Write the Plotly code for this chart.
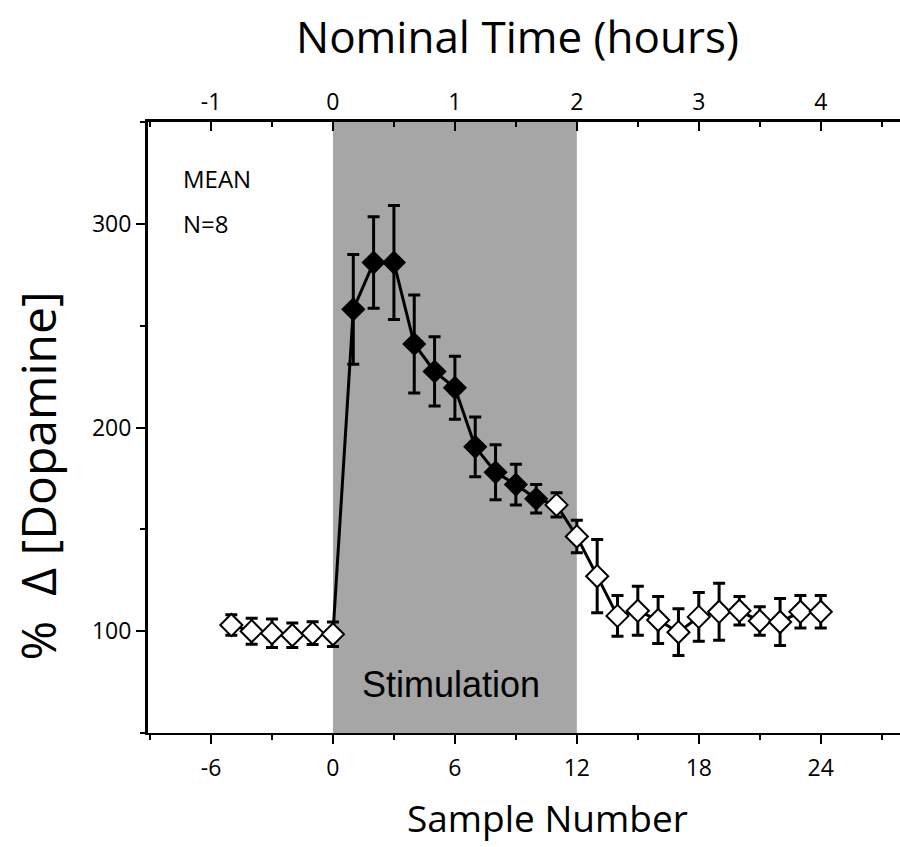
import plotly.graph_objects as go

# ---- data ----
samples_pre = [-5, -4, -3, -2, -1, 0]
values_pre = [103, 100, 99, 98, 99, 98.5]
err_pre = [5, 6.4, 7, 6, 5.6, 6]

samples_stim = [1, 2, 3, 4, 5, 6, 7, 8, 9, 10]
values_stim = [258, 281, 281, 241, 227.5, 219.5, 190.5, 178, 172, 165]
err_stim = [27, 22.5, 28, 24, 17, 15.5, 14.7, 13.5, 10, 7]

samples_post = [11, 12, 13, 14, 15, 16, 17, 18, 19, 20, 21, 22, 23, 24]
values_post = [162, 146.5, 127, 107.5, 110, 105.5, 99.5, 107, 109.5, 110, 105, 104.5, 109.5, 109.5]
err_post = [6, 8, 18, 10, 12, 11.5, 11.5, 12, 14, 7, 7, 11.5, 8, 8]

stim_start, stim_end = 0, 12
bottom_ticks = [-6, 0, 6, 12, 18, 24]
top_ticks = [-1, 0, 1, 2, 3, 4]
y_ticks = [100, 200, 300]

X_RANGE = [-9.1, 27.9]
Y_RANGE = [50, 350]

FONT = "Open Sans"

all_x = samples_pre + samples_stim + samples_post
all_y = values_pre + values_stim + values_post

fig = go.Figure()

# connecting line
fig.add_trace(go.Scatter(x=all_x, y=all_y, mode="lines",
                         line=dict(color="black", width=3), hoverinfo="skip",
                         showlegend=False))

err_style = dict(type="data", color="black", thickness=3, width=6)

# open diamonds (pre + post)
for xs, ys, es in [(samples_pre, values_pre, err_pre), (samples_post, values_post, err_post)]:
    fig.add_trace(go.Scatter(x=xs, y=ys, mode="markers",
                             error_y=dict(array=es, **err_style),
                             marker=dict(symbol="diamond", size=17, color="white",
                                         line=dict(color="black", width=2)),
                             showlegend=False))

# filled diamonds (stimulation)
fig.add_trace(go.Scatter(x=samples_stim, y=values_stim, mode="markers",
                         error_y=dict(array=err_stim, **err_style),
                         marker=dict(symbol="diamond", size=17, color="black",
                                     line=dict(color="black", width=1.5)),
                         showlegend=False))

# invisible trace on top axis so it is drawn
fig.add_trace(go.Scatter(x=[X_RANGE[0] / 6], y=[Y_RANGE[0]], xaxis="x2", mode="markers",
                         marker=dict(opacity=0), hoverinfo="skip", showlegend=False))

# stimulation band
fig.add_shape(type="rect", xref="x", yref="y", x0=stim_start, x1=stim_end,
              y0=Y_RANGE[0], y1=Y_RANGE[1], fillcolor="#a6a6a6",
              line=dict(width=0), layer="below")

fig.update_layout(
    width=900, height=847,
    margin=dict(l=148, r=0, t=122, b=114),
    paper_bgcolor="white", plot_bgcolor="white",
    font=dict(family=FONT, color="black", size=23),
    xaxis=dict(range=X_RANGE, tickvals=bottom_ticks, ticktext=[str(t) for t in bottom_ticks],
               ticks="outside", ticklen=9, tickwidth=2, tickcolor="black",
               minor=dict(dtick=3, tick0=0, ticks="outside", ticklen=5, tickwidth=1.5, tickcolor="black"),
               showline=True, linecolor="black", linewidth=2, showgrid=False, zeroline=False,
               tickfont=dict(size=23), ticklabelstandoff=4),
    xaxis2=dict(range=[X_RANGE[0] / 6, X_RANGE[1] / 6], overlaying="x", side="top",
                tickvals=top_ticks, ticktext=[str(t) for t in top_ticks],
                ticks="inside", ticklen=9, tickwidth=2, tickcolor="black",
                minor=dict(dtick=0.5, tick0=0, ticks="inside", ticklen=5, tickwidth=1.5, tickcolor="black"),
                showline=True, linecolor="black", linewidth=3, showgrid=False, zeroline=False,
                tickfont=dict(size=23), anchor="y"),
    yaxis=dict(range=Y_RANGE, tickvals=y_ticks, ticks="outside", ticklen=9, tickwidth=2,
               tickcolor="black",
               minor=dict(dtick=50, tick0=0, ticks="outside", ticklen=5, tickwidth=1.5, tickcolor="black"),
               showline=True, linecolor="black", linewidth=3, showgrid=False, zeroline=False,
               tickfont=dict(size=23)),
    yaxis2=dict(range=[0, 1], overlaying="y", side="right", anchor="x",
                tickvals=[0.354, 0.612, 0.869], ticks="inside", ticklen=3, tickwidth=2,
                tickcolor="black", showticklabels=False, showline=False, showgrid=False,
                zeroline=False),
    annotations=[
        dict(text="Nominal Time (hours)", xref="paper", yref="paper", x=0.492, y=1.1408,
             xanchor="center", yanchor="middle", showarrow=False, font=dict(size=44)),
        dict(text="Sample Number", xref="paper", yref="paper", x=0.5306, y=-0.138,
             xanchor="center", yanchor="middle", showarrow=False, font=dict(size=37)),
        dict(text="%  \u0394 [Dopamine]", xref="paper", yref="paper", x=-0.1476, y=0.42,
             xanchor="center", yanchor="middle", textangle=-90, showarrow=False,
             font=dict(size=48)),
        dict(text="Stimulation", xref="x", yref="y", x=5.8, y=74, xanchor="center",
             yanchor="middle", showarrow=False,
             font=dict(family="Liberation Sans", size=36)),
        dict(text="MEAN", xref="x", yref="y", x=-7.48, y=322.5, xanchor="left",
             yanchor="middle", showarrow=False, font=dict(size=24)),
        dict(text="N=8", xref="x", yref="y", x=-7.48, y=300, xanchor="left",
             yanchor="middle", showarrow=False, font=dict(size=24)),
    ],
)

fig.write_html("out.html")
